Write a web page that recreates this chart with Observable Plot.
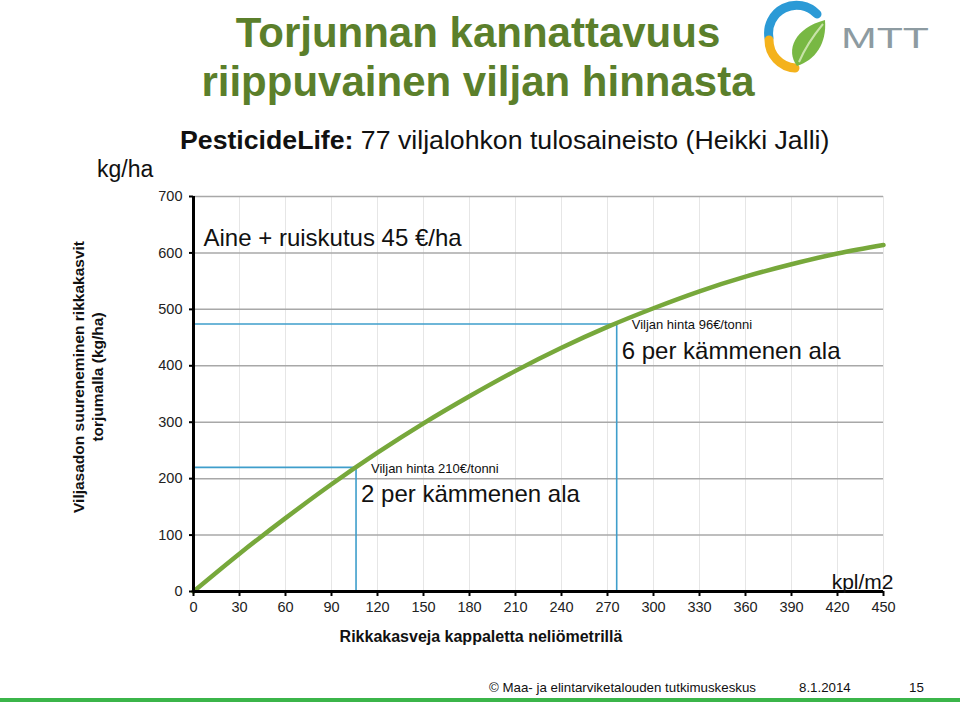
<!DOCTYPE html>
<html><head><meta charset="utf-8">
<script src="https://cdn.jsdelivr.net/npm/d3@7"></script>
<script src="https://cdn.jsdelivr.net/npm/@observablehq/plot@0.6"></script>
<style>
body{margin:0;background:#fff;font-family:Arial,"Liberation Sans",sans-serif;}
#wrap{position:relative;width:960px;height:702px;overflow:hidden;background:#fff}
.abs{position:absolute;white-space:nowrap;line-height:1}
</style></head>
<body><div id="wrap">
<div id="chart" class="abs" style="left:0;top:0"></div>
<div class="abs" style="left:0;width:956px;top:8px;text-align:center;font-size:42px;font-weight:bold;color:#5b7f2b;line-height:49px">Torjunnan kannattavuus<br>riippuvainen viljan hinnasta</div>
<svg class="abs" style="left:755px;top:0" width="190" height="75" viewBox="0 0 190 75">
  <path d="M14 38 A28 28 0 0 1 62 14" fill="none" stroke="#2b9ad6" stroke-width="9" stroke-linecap="round"/>
  <path d="M14 40 A28 28 0 0 0 40 68" fill="none" stroke="#f4b21c" stroke-width="9" stroke-linecap="round"/>
  <path d="M42 66 C30 50 40 28 70 20 C72 44 60 60 42 66 Z" fill="#78b843"/>
  <path d="M44 62 C50 48 58 36 68 24" fill="none" stroke="#c8e3a8" stroke-width="2"/>
  <text x="86" y="48" font-size="30" font-family="Arial,'Liberation Sans',sans-serif" fill="#8d9ba1" textLength="88" lengthAdjust="spacingAndGlyphs">MTT</text>
</svg>
<div class="abs" style="left:180px;top:128px;font-size:25px;color:#111;transform:scaleX(1.067);transform-origin:0 0"><b>PesticideLife:</b> 77 viljalohkon tulosaineisto (Heikki Jalli)</div>
<div class="abs" style="left:97px;top:158px;font-size:23px;color:#111">kg/ha</div>
<div class="abs" style="left:78px;top:377px;width:0;height:0">
  <div style="position:absolute;transform:translate(-50%,-50%) rotate(-90deg);text-align:center;font-size:15.5px;font-weight:bold;line-height:19px;white-space:nowrap;color:#111;left:10px">Viljasadon suureneminen rikkakasvit<br>torjumalla (kg/ha)</div>
</div>
<div class="abs" style="left:0;width:962px;top:629px;text-align:center;font-size:16px;font-weight:bold;color:#111">Rikkakasveja kappaletta neliömetrillä</div>
<div class="abs" style="left:489px;top:681px;font-size:13.3px;color:#111">© Maa- ja elintarviketalouden tutkimuskeskus</div>
<div class="abs" style="left:799px;top:681px;font-size:13.3px;color:#111">8.1.2014</div>
<div class="abs" style="left:909px;top:681px;font-size:13.3px;color:#111">15</div>
<div class="abs" style="left:0;top:698px;width:960px;height:4px;background:#3bb54a"></div>
</div>
<script>
// weeds per m2 (x) and yield gain kg/ha (y)
const weedDensity = [0,30,60,90,120,150,180,210,240,270,300,330,360,390,420,450];
const yieldGain   = [0,67,130,190,246,298,346,391,432,469,502,532,558,580,599,614];
const xTicks = [0,30,60,90,120,150,180,210,240,270,300,330,360,390,420,450];
const yTicks = [0,100,200,300,400,500,600,700];
// break-even points
const thresholdX = [106, 276];
const thresholdY = [220, 474];
const priceLabels = ["Viljan hinta 210€/tonni", "Viljan hinta 96€/tonni"];
const handLabels = ["2 per kämmenen ala", "6 per kämmenen ala"];
const costLabel = ["Aine + ruiskutus 45 €/ha"];
const unitLabel = ["kpl/m2"];

const curve = weedDensity.map((x, i) => ({x, y: yieldGain[i]}));
const guides = thresholdX.flatMap((tx, i) => [
  {x: 0, y: thresholdY[i], g: i},
  {x: tx, y: thresholdY[i], g: i},
  {x: tx, y: 0, g: i}
]);
const points = thresholdX.map((tx, i) => ({x: tx, y: thresholdY[i], price: priceLabels[i], hand: handLabels[i]}));

const chart = Plot.plot({
  width: 960, height: 702,
  marginLeft: 193, marginRight: 77, marginTop: 196, marginBottom: 111,
  x: {domain: [0, 450]},
  y: {domain: [0, 700]},
  style: {fontFamily: "Arial, 'Liberation Sans', sans-serif", fontSize: "14.5px", color: "#222", background: "transparent"},
  marks: [
    Plot.gridX(xTicks, {stroke: "#e6e6e6", strokeOpacity: 1, strokeWidth: 1}),
    Plot.gridY(yTicks, {stroke: "#a8a8a8", strokeOpacity: 1, strokeWidth: 1.5}),
    Plot.line(guides, {x: "x", y: "y", z: "g", stroke: "#3f9ecb", strokeWidth: 1.6}),
    Plot.line(curve, {x: "x", y: "y", curve: "natural", stroke: "#77a83b", strokeWidth: 4.5}),
    Plot.ruleX([0], {stroke: "#000", strokeWidth: 3}),
    Plot.ruleY([0], {stroke: "#000", strokeWidth: 3}),
    Plot.axisY(yTicks, {tickSize: 4, tickPadding: 7, label: null, stroke: "#000", strokeWidth: 2, fill: "#222"}),
    Plot.axisX(xTicks, {tickSize: 5, tickPadding: 5, label: null, stroke: "#000", strokeWidth: 2, fill: "#222"}),
    Plot.text(points, {x: "x", y: "y", text: "price", textAnchor: "start", dx: 15, dy: 1, fontSize: 13, fill: "#111"}),
    Plot.text(points, {x: "x", y: "y", text: "hand", textAnchor: "start", dx: 5, dy: 27, fontSize: 24, fill: "#111"}),
    Plot.text(costLabel, {frameAnchor: "top-left", textAnchor: "start", lineAnchor: "middle", dx: 10, dy: 42, fontSize: 24, fill: "#111"}),
    Plot.text(unitLabel, {frameAnchor: "bottom-right", textAnchor: "end", lineAnchor: "middle", dx: 10, dy: -9, fontSize: 21, fill: "#111"})
  ]
});
document.getElementById("chart").appendChild(chart);
</script>
</body></html>
